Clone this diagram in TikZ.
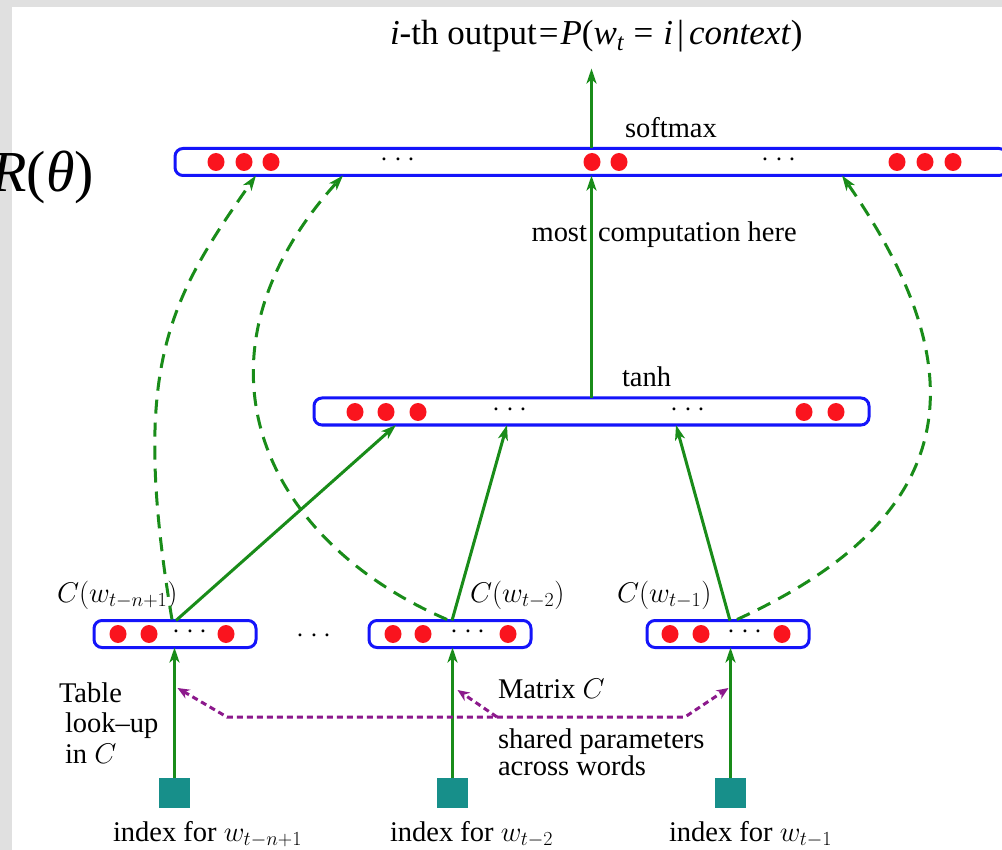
\RequirePackage{fix-cm}
\documentclass[tikz,border=0pt]{standalone}
\usepackage{fontspec}
\setmainfont{Liberation Serif}
\usetikzlibrary{arrows.meta,calc}
\definecolor{lineblue}{RGB}{20,20,250}
\definecolor{dotred}{RGB}{250,20,30}
\definecolor{arrgreen}{RGB}{25,140,25}
\definecolor{sqteal}{RGB}{23,143,138}
\definecolor{matpurple}{RGB}{140,25,140}
\definecolor{bggray}{RGB}{224,224,224}
\newcommand{\tdots}{$\cdot$\hspace{6pt}$\cdot$\hspace{6pt}$\cdot$}
\begin{document}
\begin{tikzpicture}[x=1pt,y=-1pt,
  every node/.style={inner sep=0pt, outer sep=0pt, font=\fontsize{28.5}{31}\selectfont},
  layer/.style={draw=lineblue, line width=3pt, rounded corners=8pt, fill=white, minimum height=27pt},
  sqbox/.style={fill=sqteal, minimum width=31pt, minimum height=30pt},
  garrow/.style={draw=arrgreen, line width=3pt, -{Stealth[length=15pt,width=10pt,inset=4pt]}},
  gdash/.style={garrow, dash pattern=on 14pt off 9pt},
  pdash/.style={draw=matpurple, line width=3pt, dash pattern=on 6pt off 4pt},
  ptip/.style={-{Stealth[length=12pt,width=10pt]}},
  lbl/.style={anchor=base west},
  mlbl/.style={anchor=base west, font=\fontsize{28.5}{31}\selectfont},
  reddot/.style={fill=dotred},
]
\useasboundingbox (0,0) rectangle (1002,850);
\clip (0,0) rectangle (1002,850);
\fill[bggray] (0,0) rectangle (1002,850);
\fill[white] (12,7) rectangle (1002,850);

% R(theta)
\node[anchor=base east, font=\fontsize{58}{62}\selectfont] (rtheta) at (94,192) {\textit{R}(\textit{θ})};

% layers
\node[layer, minimum width=832pt] (soft) at (591,162) {};
\node[layer, minimum width=555pt] (tanh) at (591.5,411.5) {};
\node[layer, minimum width=162pt] (b1) at (175,634) {};
\node[layer, minimum width=162pt] (b2) at (450,634) {};
\node[layer, minimum width=162pt] (b3) at (728,634) {};

% red units
\foreach \x in {216,244,271,592,619,897,925,953} \fill[reddot] (\x,162) ellipse (8.5 and 9);
\foreach \x in {355,386,418,804,836} \fill[reddot] (\x,412) ellipse (8.5 and 9);
\foreach \x in {118,149,226,393,423,508,670,701,782} \fill[reddot] (\x,634) ellipse (8.5 and 9);

% dots in layers
\node (sd1) at (398,160) {\tdots};
\node (sd2) at (779,160) {\tdots};
\node (td1) at (510,410) {\tdots};
\node (td2) at (688,410) {\tdots};
\node (bd1) at (190,632) {\tdots};
\node (bd2) at (468,632) {\tdots};
\node (bd3) at (745,632) {\tdots};
\node (bdm) at (314,636) {\tdots};

% squares
\node[sqbox] (sq1) at (174.5,793) {};
\node[sqbox] (sq2) at (452.5,793) {};
\node[sqbox] (sq3) at (730.5,793) {};

% labels
\node[lbl, font=\fontsize{35}{38}\selectfont] (outlbl) at (390,45) {\textit{i}-th output\hspace{2pt}=\hspace{2pt}\textit{P}(\textit{w}\textsubscript{\textit{t}}\hspace{9pt}=\hspace{10pt}\textit{i}\hspace{4pt}|\hspace{5pt}\textit{context})};
\node[lbl] (softlbl) at (625,138) {softmax};
\node[lbl] (tanhlbl) at (622,387) {tanh};
\node[anchor=base east] (most) at (587,242) {most};
\node[lbl] (comp) at (598,242) {computation here};
\node[mlbl] (c1) at (57,602) {$C(w_{t-n+1})$};
\node[mlbl] (c2) at (470,602) {$C(w_{t-2})$};
\node[mlbl] (c3) at (617,602) {$C(w_{t-1})$};
\node[lbl] (tab1) at (59,702) {Table};
\node[lbl] (tab2) at (65,732) {look–up};
\node[lbl] (tab3) at (65,763) {in $C$};
\node[lbl] (mat) at (498,698) {Matrix $C$};
\node[lbl] (sh1) at (498,748) {shared parameters};
\node[lbl] (sh2) at (498,775) {across words};
\node[lbl] (i1) at (113,841) {index for $w_{t-n+1}$};
\node[lbl] (i2) at (390,841) {index for $w_{t-2}$};
\node[lbl] (i3) at (669,841) {index for $w_{t-1}$};

% vertical arrows from squares
\draw[garrow] (sq1.north) -- (sq1.north |- b1.south);
\draw[garrow] (sq2.north) -- (sq2.north |- b2.south);
\draw[garrow] (sq3.north) -- (sq3.north |- b3.south);

% embeddings to tanh
\draw[garrow] ($(b1.north)+(1,0)$) -- ($(tanh.south west)+(82,0)$);
\draw[garrow] ($(b2.north)+(2,0)$) -- ($(tanh.south west)+(193,0)$);
\draw[garrow] ($(b3.north)+(2,0)$) -- ($(tanh.south west)+(362,0)$);

% tanh to softmax, output
\draw[garrow] (tanh.north) -- (tanh.north |- soft.south);
\draw[garrow] (soft.north -| tanh.north) -- ++(0,-80) coordinate (outend);

% direct connections (dashed)
\draw[gdash] ($(b1.north)+(-3,-1)$) .. controls (130,368) and (168,301) .. ($(soft.south west)+(81,0)$);
\draw[gdash] ($(b2.north)+(-3,-1)$) .. controls (260,539) and (180,356) .. ($(soft.south west)+(168,0)$);
\draw[gdash] ($(b3.north)+(9,-1)$) .. controls (968,514) and (975,367) .. ($(soft.south west)+(667,0)$);

% shared matrix C (purple)
\coordinate (pk1) at (227,717);
\coordinate (pk2) at (685,717);
\coordinate (pk3) at (497,717);
\draw[pdash, {Stealth[length=12pt,width=10pt]}-{Stealth[length=12pt,width=10pt]}] ($(sq1.north)+(3,-90)$) -- (pk1) -- (pk2) -- ($(sq3.north)+(-2,-90)$);
\draw[pdash, ptip] (pk3) -- ($(sq2.north)+(5,-88)$);
\end{tikzpicture}
\end{document}
